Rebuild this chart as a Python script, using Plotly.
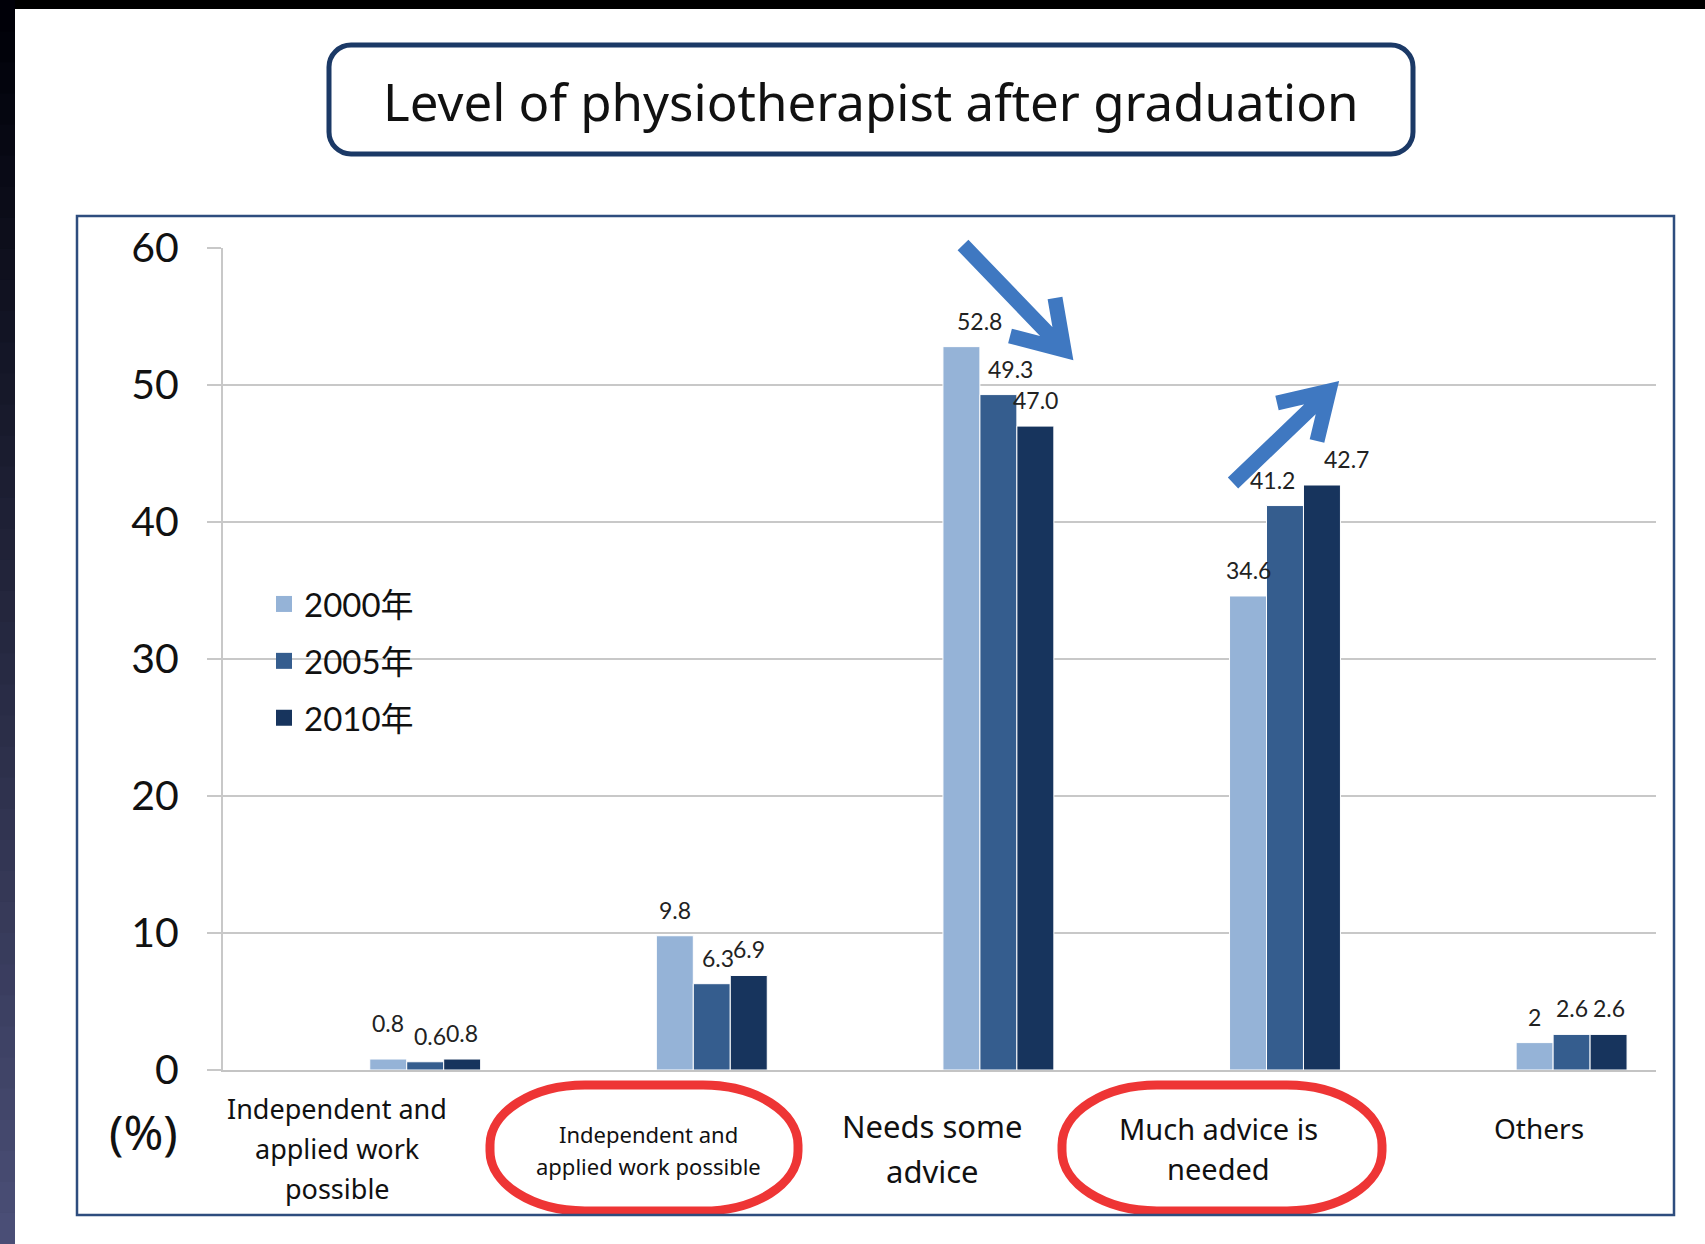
import plotly.graph_objects as go

W, H = 1705, 1244

# ---------------- data ----------------
categories = [
    "Independent and<br>applied work<br>possible",
    "Independent and<br>applied work possible",
    "Needs some<br>advice",
    "Much advice is<br>needed",
    "Others",
]
series_names = ["2000年", "2005年", "2010年"]
v2000 = [0.8, 9.8, 52.8, 34.6, 2.0]
v2005 = [0.6, 6.3, 49.3, 41.2, 2.6]
v2010 = [0.8, 6.9, 47.0, 42.7, 2.6]
t2000 = ["0.8", "9.8", "52.8", "34.6", "2"]
t2005 = ["0.6", "6.3", "49.3", "41.2", "2.6"]
t2010 = ["0.8", "6.9", "47.0", "42.7", "2.6"]
y_ticks = [0, 10, 20, 30, 40, 50, 60]
title_text = "Level of physiotherapist after graduation"
unit_text = "(%)"

# ---------------- style ----------------
colors = ["#95b3d7", "#355d8e", "#17345d"]
offsets = [0.012, 0.141, 0.270]
bar_w = 0.129
LATO = "Lato, 'Noto Sans CJK JP', sans-serif"
SANS = "'Noto Sans', 'Liberation Sans', sans-serif"
# small pixel nudges for individual value labels: (series index, category index) -> (dx, dy)
label_nudge = {(0, 0): (0, 10), (1, 0): (5, 0), (0, 2): (18, 0), (1, 2): (12, 0),
               (1, 3): (-13, 0), (2, 3): (25, 0), (1, 1): (6, 0)}


def px(x):
    return x / W


def py(y):
    return 1 - y / H


x_pos = list(range(len(categories)))

fig = go.Figure()
annotations = []
for si, (name, vals, txt, col, off) in enumerate(zip(series_names, [v2000, v2005, v2010],
                                                     [t2000, t2005, t2010], colors, offsets)):
    fig.add_trace(go.Bar(
        x=x_pos, y=vals, name=name,
        marker=dict(color=col, line=dict(color="white", width=1)),
        offset=off, width=bar_w, legendgroup=name, showlegend=False,
        hoverinfo="x+y",
    ))
    # legend entry (bigger square symbol)
    fig.add_trace(go.Scatter(
        x=[None], y=[None], mode="markers", name=name, legendgroup=name,
        marker=dict(symbol="square", size=16, color=col), showlegend=True,
    ))
    # value labels above bars
    for ci, (xi, v, t) in enumerate(zip(x_pos, vals, txt)):
        dx, dy = label_nudge.get((si, ci), (0, 0))
        annotations.append(dict(
            text=t, xref="x", yref="y", x=xi + off + bar_w / 2, y=v,
            showarrow=False, xanchor="center", yanchor="bottom",
            xshift=dx, yshift=10 + dy,
            font=dict(family=LATO, size=23, color="#222222")))

# ---------------- shapes ----------------
shapes = []

shapes.append(dict(type="rect", xref="paper", yref="paper", x0=0, x1=1,
                   y0=py(9), y1=1, fillcolor="black", line=dict(width=0), layer="above"))
N = 40
for i in range(N):
    t = i / (N - 1)
    r = int(0 + t * 0x4a)
    g = int(0 + t * 0x4e)
    b = int(8 + t * (0x76 - 8))
    shapes.append(dict(type="rect", xref="paper", yref="paper", x0=0, x1=px(15),
                       y0=py(H * (i + 1) / N + 2), y1=py(H * i / N),
                       fillcolor=f"rgb({r},{g},{b})", line=dict(width=0), layer="above"))


def rounded_rect(x0, y0, x1, y1, rx, ry):
    k = 0.5523

    def P(x, y):
        return f"{px(x):.5f},{py(y):.5f}"
    d = f"M {P(x0 + rx, y0)} L {P(x1 - rx, y0)} "
    d += f"C {P(x1 - rx + k * rx, y0)} {P(x1, y0 + ry - k * ry)} {P(x1, y0 + ry)} "
    d += f"L {P(x1, y1 - ry)} "
    d += f"C {P(x1, y1 - ry + k * ry)} {P(x1 - rx + k * rx, y1)} {P(x1 - rx, y1)} "
    d += f"L {P(x0 + rx, y1)} "
    d += f"C {P(x0 + rx - k * rx, y1)} {P(x0, y1 - ry + k * ry)} {P(x0, y1 - ry)} "
    d += f"L {P(x0, y0 + ry)} "
    d += f"C {P(x0, y0 + ry - k * ry)} {P(x0 + rx - k * rx, y0)} {P(x0 + rx, y0)} Z"
    return d


# title box
shapes.append(dict(type="path", xref="paper", yref="paper",
                   path=rounded_rect(329, 45, 1413, 154, 22, 22),
                   line=dict(color="#1b3966", width=5), layer="above"))

# red rings around labels
for (x0, x1) in [(490, 798), (1062, 1382)]:
    shapes.append(dict(type="path", xref="paper", yref="paper",
                       path=rounded_rect(x0, 1085, x1, 1211, 95, 60),
                       line=dict(color="#ee3535", width=9), layer="above"))

# chart frame
shapes.append(dict(type="rect", xref="paper", yref="paper",
                   x0=px(77), x1=px(1674), y0=py(1215), y1=py(216),
                   line=dict(color="#2e4d7e", width=2.5), layer="above"))


def arrow(tail, tip, a1, a2):
    P = lambda p: f"{px(p[0]):.5f},{py(p[1]):.5f}"
    return f"M {P(tail)} L {P(tip)} M {P(a1)} L {P(tip)} L {P(a2)}"


shapes.append(dict(type="path", xref="paper", yref="paper",
                   path=arrow((963, 245), (1064, 350), (1055, 298), (1010, 336)),
                   line=dict(color="#3f78c1", width=15), layer="above"))
shapes.append(dict(type="path", xref="paper", yref="paper",
                   path=arrow((1233, 483), (1329, 391), (1277, 403), (1317, 441)),
                   line=dict(color="#3f78c1", width=15), layer="above"))

# ---------------- annotations ----------------
annotations.append(dict(text=title_text, xref="paper", yref="paper",
                        x=px(871), y=py(101), showarrow=False,
                        xanchor="center", yanchor="middle",
                        font=dict(family=SANS, size=51, color="#111111")))
annotations.append(dict(text=unit_text, xref="paper", yref="paper",
                        x=px(143), y=py(1131), showarrow=False,
                        xanchor="center", yanchor="middle",
                        font=dict(family=SANS, size=48, color="#111111")))

label_x = [-0.102, 0.986, 1.974, 2.972, 4.092]
label_y0 = [1108, 1134, 1126, 1128, 1128]   # first line centre (px)
label_gap = [40, 32, 45, 40, 40]
label_size = [27, 22, 31, 29, 28]
for cat, lx, ly, lg, ls in zip(categories, label_x, label_y0, label_gap, label_size):
    for j, line in enumerate(cat.split("<br>")):
        annotations.append(dict(text=line, xref="x", yref="paper", x=lx,
                                y=py(ly + j * lg), showarrow=False,
                                xanchor="center", yanchor="middle",
                                font=dict(family=SANS, size=ls, color="#111111")))

fig.update_layout(
    width=W, height=H,
    margin=dict(l=0, r=0, t=0, b=0, pad=0, autoexpand=False),
    paper_bgcolor="white", plot_bgcolor="white",
    barmode="group",
    showlegend=True,
    legend=dict(x=px(264), y=py(576), xanchor="left", yanchor="top",
                font=dict(family=LATO, size=33, color="#111111"),
                bgcolor="rgba(0,0,0,0)", tracegroupgap=11,
                traceorder="grouped", itemclick=False),
    xaxis=dict(domain=[px(223), px(1656)], range=[-0.5, 4.5], automargin=False,
               showticklabels=False, showgrid=False, zeroline=False,
               showline=True, linecolor="#c4c4c4", linewidth=2, ticks=""),
    yaxis=dict(domain=[py(1070), py(248)], range=[0, 60], tickvals=y_ticks,
               automargin=False,
               showgrid=True, gridcolor="#c8c8c8", gridwidth=2,
               zeroline=False, showline=True, linecolor="#c8c8c8", linewidth=2,
               ticks="outside", ticklen=14, tickcolor="#c8c8c8", tickwidth=2,
               ticklabelstandoff=20,
               tickfont=dict(family=LATO, size=41, color="#111111")),
    shapes=shapes,
    annotations=annotations,
)

fig.write_html("out.html", config={"displayModeBar": False},
               post_script="document.body.style.margin='0px';")
